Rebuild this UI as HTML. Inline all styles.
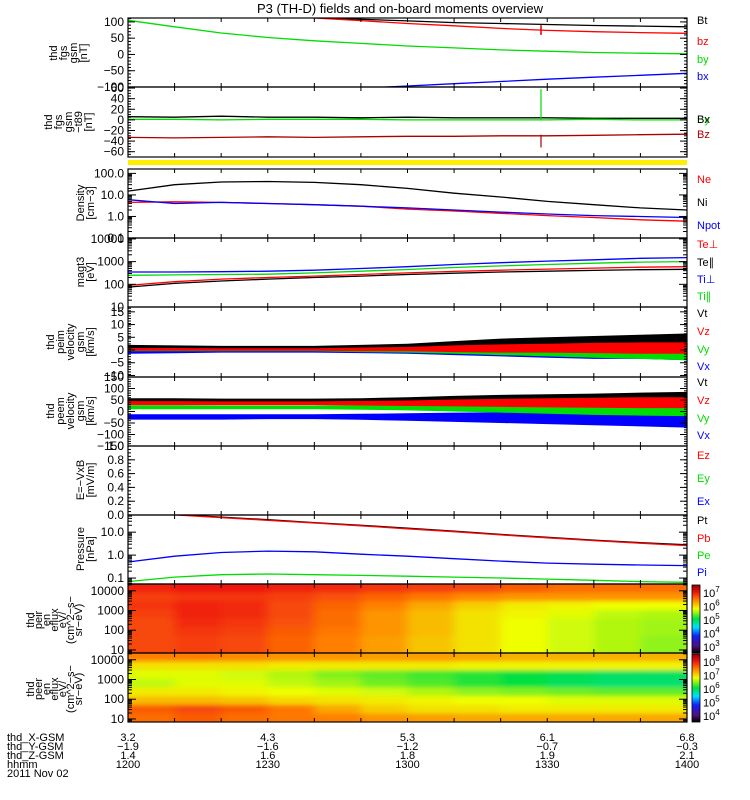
<!DOCTYPE html>
<html><head><meta charset="utf-8"><style>
body{margin:0;background:#fff;}
svg{display:block;font-family:"Liberation Sans",sans-serif;}
</style></head><body>
<svg id="c" width="750" height="800" xmlns="http://www.w3.org/2000/svg">
<defs>
<clipPath id="plotclip"><rect x="128" y="18" width="559" height="704"/></clipPath>
<filter id="blur" x="-5%" y="-5%" width="110%" height="110%"><feGaussianBlur stdDeviation="5 2"/></filter>
<clipPath id="s1clip"><rect x="128" y="584" width="559" height="69"/></clipPath>
<clipPath id="s2clip"><rect x="128" y="653" width="559" height="69"/></clipPath>
<linearGradient id="cmap" x1="0" y1="1" x2="0" y2="0">
<stop offset="0" stop-color="#000"/><stop offset="0.1" stop-color="#50107a"/><stop offset="0.25" stop-color="#1020ff"/><stop offset="0.38" stop-color="#00e0ff"/><stop offset="0.5" stop-color="#00e040"/><stop offset="0.65" stop-color="#f0ff00"/><stop offset="0.78" stop-color="#ff8000"/><stop offset="0.9" stop-color="#ee1010"/><stop offset="1" stop-color="#900000"/>
</linearGradient>
</defs>
<text x="400" y="13" text-anchor="middle" font-size="13">P3 (TH-D) fields and on-board moments overview</text>
<rect x="128" y="160" width="559" height="5" fill="#ffee00"/>
</svg>
<script>
// ---- data (13 samples, 10-min steps 12:00-14:00) ----
const times=[0,1,2,3,4,5,6,7,8,9,10,11,12];
const bt=[150,140,130,120,113,108,103,98,95,92,89,87,85];
const bz=[160,150,140,125,112,104,95,88,80,74,70,67,65];
const by=[105,85,66,52,42,34,26,20,14,10,6,4,2];
const bx=[-170,-150,-135,-120,-110,-104,-97,-90,-83,-76,-70,-64,-58];
const dbBlack=[6,5,7,5,5,4,5,4,4,4,3,3,3];
const dbGreen=[1,1,0,1,1,1,0,0,0,0,1,0,0];
const dbRed=[-33,-34,-33,-32,-33,-32,-31,-31,-30,-30,-29,-28,-27];
const ni=[15,30,40,42,38,30,20,12,8,5,3.5,2.5,2];
const ne=[4.5,4.8,4.5,4,3.5,3,2.2,1.8,1.4,1.1,0.9,0.7,0.6];
const npot=[6,4,4.5,4,3.5,3,2.5,2,1.6,1.3,1.1,1.0,0.9];
const tePar=[75,110,140,170,200,230,270,310,350,380,410,440,460];
const tePerp=[90,130,170,200,230,270,320,370,420,470,520,570,600];
const tiPar=[250,260,270,280,320,380,450,550,650,750,850,950,1000];
const tiPerp=[350,350,360,380,420,500,600,750,900,1050,1200,1400,1500];
const v5tLo=[0.3,0.3,0.3,0.3,0.3,0.3,0.5,0.8,1,1,1,1,1], v5tHi=[2,1.8,1.6,1.6,1.6,2,2.5,3.5,4.5,5,5.5,6,6.5];
const v5zLo=[-0.3,-0.3,-0.3,-0.3,-0.3,-0.5,-0.5,-0.8,-1,-1,-1.2,-1.5,-1.5], v5zHi=[0.8,0.8,0.7,0.7,0.7,1,1.2,1.8,2.2,2.5,2.8,3,3];
const v5yLo=[-0.5,-0.5,-0.5,-0.5,-0.5,-0.8,-1,-1.5,-2,-2.5,-3,-3.5,-4], v5yHi=[0.3,0.3,0.3,0.3,0.3,0.3,0.5,0.5,0.5,0.5,0.8,0.8,0.8];
const v5xLo=[-1.5,-1.3,-1,-1,-1,-1.2,-1.5,-2,-2.5,-3,-3.5,-3.5,-4], v5xHi=[-0.2,-0.2,-0.2,-0.2,-0.2,-0.2,-0.2,-0.2,-0.5,-0.5,-0.5,-0.5,-0.5];
const v6tLo=[40,40,40,40,40,40,40,40,40,40,40,40,40], v6tHi=[58,58,56,56,56,58,62,68,72,75,78,82,85];
const v6zLo=[28,28,28,28,28,26,24,22,20,18,16,15,15], v6zHi=[45,45,44,44,44,46,48,52,55,58,60,62,62];
const v6yLo=[10,10,10,10,10,8,5,0,-5,-10,-15,-18,-20], v6yHi=[27,27,26,26,26,28,30,34,36,38,40,42,42];
const v6xLo=[-35,-35,-35,-33,-33,-36,-40,-45,-50,-55,-60,-65,-70], v6xHi=[-12,-12,-12,-12,-12,-10,-8,-5,-3,-2,0,0,0];
const pt=[100,60,45,35,26,20,15,11,8,6,4.5,3.5,2.8];
const pb=[95,57,43,33,25,19,14,10.5,7.6,5.7,4.3,3.3,2.6];
const pi=[0.5,0.9,1.3,1.5,1.4,1.1,0.9,0.7,0.55,0.45,0.4,0.37,0.35];
const pe=[0.07,0.11,0.14,0.15,0.14,0.13,0.12,0.11,0.1,0.09,0.08,0.07,0.065];
const ionSpec=[
[.88,.89,.89,.88,.87,.86,.85,.84,.82,.80,.80,.80],
[.85,.86,.86,.85,.83,.81,.79,.77,.76,.76,.76,.76],
[.86,.88,.87,.84,.81,.78,.74,.70,.67,.66,.65,.65],
[.85,.88,.87,.84,.80,.76,.72,.68,.66,.64,.62,.61],
[.84,.87,.86,.83,.80,.76,.72,.68,.65,.63,.61,.60],
[.84,.86,.85,.82,.79,.76,.72,.68,.65,.63,.61,.60],
[.84,.85,.84,.81,.78,.75,.71,.68,.65,.63,.61,.59],
[.84,.85,.84,.81,.78,.75,.71,.68,.65,.63,.61,.59]];
const eleSpec=[
[.78,.78,.77,.76,.76,.75,.75,.74,.73,.73,.73,.73],
[.68,.68,.68,.67,.67,.67,.67,.66,.66,.66,.66,.66],
[.64,.64,.63,.61,.58,.56,.54,.52,.50,.49,.48,.48],
[.62,.64,.64,.62,.60,.57,.55,.52,.50,.48,.47,.47],
[.67,.67,.66,.65,.64,.63,.61,.59,.58,.57,.56,.56],
[.72,.72,.71,.69,.68,.67,.66,.65,.65,.64,.64,.64],
[.82,.84,.82,.79,.74,.70,.68,.68,.67,.67,.67,.67],
[.80,.82,.80,.79,.78,.76,.75,.74,.74,.74,.74,.74]];
const xRows=["3.2","4.3","5.3","6.1","6.8"];
const yRows=["-1.9","-1.6","-1.2","-0.7","-0.3"];
const zRows=["1.4","1.6","1.8","1.9","2.1"];
const hhmm=["1200","1230","1300","1330","1400"];

const S=document.getElementById('c'), NS='http://www.w3.org/2000/svg';
const X0=128,X1=687,TMAX=12;
function xOf(t){return X0+(X1-X0)*t/TMAX;}
function el(tag,a,p){const e=document.createElementNS(NS,tag);for(const k in a)e.setAttribute(k,a[k]);(p||S).appendChild(e);return e;}
function mkPanel(top,bot,min,max,log){return {top,bot,min,max,log,y(v){if(log){const a=Math.log10(min),b=Math.log10(max);return bot-(Math.log10(v)-a)/(b-a)*(bot-top);}return bot-(v-min)/(max-min)*(bot-top);}};}
const clipG=el('g',{'clip-path':'url(#plotclip)'});


function line(P,vals,col,name){
  let d='';vals.forEach((v,i)=>{const x=xOf(times[i]),y=Math.max(P.top-20,Math.min(P.bot+20,P.y(v)));d+=(i?'L':'M')+x.toFixed(1)+' '+y.toFixed(1);});
  const g=el('g',{'clip-path':'url(#pc'+P.top+')'},clipG);
  const p=el('path',{d,fill:'none',stroke:col,'stroke-width':1.3},g);
  
  
}
function band(P,lo,hi,col,name){
  let d='';hi.forEach((v,i)=>{d+=(i?'L':'M')+xOf(times[i]).toFixed(1)+' '+P.y(v).toFixed(1);});
  for(let i=lo.length-1;i>=0;i--)d+='L'+xOf(times[i]).toFixed(1)+' '+P.y(lo[i]).toFixed(1);
  const g=el('g',{'clip-path':'url(#pc'+P.top+')'},clipG);
  const p=el('path',{d:d+'Z',fill:col},g);
  
  
}
function setupClip(P){const cp=el('clipPath',{id:'pc'+P.top},S.querySelector('defs'));el('rect',{x:X0,y:P.top,width:X1-X0,height:P.bot-P.top},cp);}
function frame(P,name){
  const r=el('rect',{x:X0,y:P.top,width:X1-X0,height:P.bot-P.top,fill:'none',stroke:'#000','stroke-width':1.2});
  
  
  for(let i=1;i<12;i++){const x=xOf(i);el('line',{x1:x,x2:x,y1:P.top,y2:P.top+4,stroke:'#000'});el('line',{x1:x,x2:x,y1:P.bot,y2:P.bot-4,stroke:'#000'});}
}
function tickY(P,y,len){el('line',{x1:X0,x2:X0+len,y1:y,y2:y,stroke:'#000'});el('line',{x1:X1,x2:X1-len,y1:y,y2:y,stroke:'#000'});}
function label(txt,x,y,col,size,anchor,name){const t=el('text',{x,y,fill:col||'#000','font-size':size||11,'text-anchor':anchor||'start'});t.textContent=txt;return t;}
function linAxis(P,majors,minorStep,labels){
  for(let v=P.min;v<=P.max+1e-9;v+=minorStep){const y=P.y(v);if(y>=P.top-0.5&&y<=P.bot+0.5)tickY(P,y,3);}
  majors.forEach((v,i)=>{const y=P.y(v);tickY(P,y,7);label(labels[i],124,y+4,'#000',12,'end','y-tick-label');});
}
function logAxis(P,labels){
  const a=Math.ceil(Math.log10(P.min)-1e-9),b=Math.floor(Math.log10(P.max)+1e-9);
  for(let e=a-1;e<=b;e++)for(let m=2;m<10;m++){const v=m*Math.pow(10,e);if(v>P.min&&v<P.max)tickY(P,P.y(v),4);}
  let k=0;for(let e=b;e>=a;e--){const y=P.y(Math.pow(10,e));tickY(P,y,8);label(labels[k++],124,y+4,'#000',12,'end','y-tick-label');}
}
function yTitle(lines,lastX,cy,name,step){
  step=step||10;const g=el('g',{});
  lines.forEach((s,i)=>{const x=lastX-(lines.length-1-i)*step;const t=el('text',{x:0,y:0,'font-size':11,'text-anchor':'middle',transform:`translate(${x},${cy}) rotate(-90)`},g);t.textContent=s;});
}

const P1=mkPanel(18,87,-100,112,false),P2=mkPanel(87,157,-70,62,false),P3=mkPanel(169,238,0.1,160,true),
P4=mkPanel(238,307,10,11000,true),P5=mkPanel(307,377,-10.6,16.9,false),P6=mkPanel(377,446,-150,150,false),
P7=mkPanel(446,515,0,1,false),P8=mkPanel(515,584,0.055,56,true);
[P1,P2,P3,P4,P5,P6,P7,P8].forEach(setupClip);

line(P1,bt,'#000','bt-line');line(P1,bz,'#ff0000','bz-line');line(P1,by,'#00dd00','by-line');line(P1,bx,'#0000ff','bx-line');
el('line',{x1:541,x2:541,y1:P1.y(90),y2:P1.y(60),stroke:'#e00000','stroke-width':1.5});
line(P2,dbBlack,'#000','dbx-line');line(P2,dbGreen,'#00dd00','dby-line');line(P2,dbRed,'#aa0000','dbz-line');
el('line',{x1:541,x2:541,y1:P2.y(58),y2:P2.y(0),stroke:'#00dd00','stroke-width':1.2});
el('line',{x1:541,x2:541,y1:P2.y(-28),y2:P2.y(-52),stroke:'#aa0000','stroke-width':1.2});
line(P3,ni,'#000','ni-line');line(P3,ne,'#ff0000','ne-line');line(P3,npot,'#0000ff','npot-line');
line(P4,tePar,'#000','te-par-line');line(P4,tePerp,'#ff0000','te-perp-line');line(P4,tiPar,'#00dd00','ti-par-line');line(P4,tiPerp,'#0000ff','ti-perp-line');
band(P5,v5tLo,v5tHi,'#000','vt-ion-band');band(P5,v5xLo,v5xHi,'#0000ff','vx-ion-band');band(P5,v5yLo,v5yHi,'#00dd00','vy-ion-band');band(P5,v5zLo,v5zHi,'#ff0000','vz-ion-band');
band(P6,v6tLo,v6tHi,'#000','vt-ele-band');band(P6,v6xLo,v6xHi,'#0000ff','vx-ele-band');band(P6,v6yLo,v6yHi,'#00dd00','vy-ele-band');band(P6,v6zLo,v6zHi,'#ff0000','vz-ele-band');
line(P8,pt,'#000','pt-line');line(P8,pb,'#ff0000','pb-line');line(P8,pi,'#0000ff','pi-line');line(P8,pe,'#00dd00','pe-line');

function cmap(v){const st=[[0,0,0,0],[.1,80,16,122],[.25,16,32,255],[.38,0,224,255],[.5,0,224,64],[.65,240,255,0],[.78,255,128,0],[.9,238,16,16],[1,144,0,0]];
 v=Math.max(0,Math.min(1,v));for(let i=1;i<st.length;i++)if(v<=st[i][0]){const a=st[i-1],b=st[i],f=(v-a[0])/(b[0]-a[0]);return `rgb(${Math.round(a[1]+f*(b[1]-a[1]))},${Math.round(a[2]+f*(b[2]-a[2]))},${Math.round(a[3]+f*(b[3]-a[3]))})`;}return '#900';}
function spec(grid,top,clip,name){
  const g=el('g',{'clip-path':'url(#'+clip+')'});
  const inner=el('g',{filter:'url(#blur)'},g);
  const nr=grid.length,nc=grid[0].length,h=69/nr,w=(X1-X0)/nc;
  grid.forEach((row,r)=>row.forEach((v,c)=>{
    const rx=X0+c*w-(c==0?20:0),ry=top+r*h-(r==0?10:0);
    const cell=el('rect',{x:rx,y:ry,width:w+1+(c==0?20:0)+(c==nc-1?20:0),height:h+1+(r==0?10:0)+(r==nr-1?10:0),fill:cmap(v)},inner);
    
    
  }));
}
spec(ionSpec,584,'s1clip','ion-spectrogram');spec(eleSpec,653,'s2clip','electron-spectrogram');
const S1=mkPanel(584,653,7,22000,true),S2=mkPanel(653,722,7,22000,true);

frame(P1,'panel-b-gsm');linAxis(P1,[100,50,0,-50,-100],10,['100','50','0','\u221250','\u2212100']);
frame(P2,'panel-b-t89');linAxis(P2,[60,40,20,0,-20,-40,-60],5,['60','40','20','0','\u221220','\u221240','\u221260']);
frame(P3,'panel-density');logAxis(P3,['100.0','10.0','1.0','0.1']);
frame(P4,'panel-temperature');logAxis(P4,['10000','1000','100','10']);
frame(P5,'panel-ion-velocity');linAxis(P5,[15,10,5,0,-5,-10],1,['15','10','5','0','\u22125','\u221210']);
frame(P6,'panel-electron-velocity');linAxis(P6,[150,100,50,0,-50,-100,-150],10,['150','100','50','0','\u221250','\u2212100','\u2212150']);
frame(P7,'panel-efield');linAxis(P7,[1,0.8,0.6,0.4,0.2,0],0.05,['1.0','0.8','0.6','0.4','0.2','0.0']);
frame(P8,'panel-pressure');logAxis(P8,['10.0','1.0','0.1']);
frame(S1,'panel-ion-spectrogram');logAxis(S1,['10000','1000','100','10']);
frame(S2,'panel-electron-spectrogram');logAxis(S2,['10000','1000','100','10']);

yTitle(['thd','fgs','gsm','[nT]'],87,53,'y-title-b-gsm');
yTitle(['thd','fgs','gsm','\u2212t89','[nT]'],92,122,'y-title-b-t89');
yTitle(['Density','[cm\u22123]'],94,203,'y-title-density');
yTitle(['magt3','[eV]'],94,272,'y-title-temp');
yTitle(['thd','peim','velocity','gsm','[km/s]'],94,342,'y-title-ion-velocity');
yTitle(['thd','peem','velocity','gsm','[km/s]'],94,411,'y-title-electron-velocity');
yTitle(['E=\u2212VxB','[mV/m]'],94,480,'y-title-efield');
yTitle(['Pressure','[nPa]'],94,549,'y-title-pressure');
yTitle(['thd','peir','en','eflux','eV/','(cm^2\u2212s\u2212','sr\u2212eV)'],82,620,'y-title-ion-spec',8);
yTitle(['thd','peer','en','eflux','eV/','(cm^2\u2212s\u2212','sr\u2212eV)'],82,689,'y-title-electron-spec',8);

const legends=[['Bt',24,'#000'],['bz',45,'#ff0000'],['by',63,'#00dd00'],['bx',80,'#0000ff'],['By',123,'#00dd00'],['Bx',123,'#000'],['Bz',138,'#aa0000'],
['Ne',183,'#ff0000'],['Ni',206,'#000'],['Npot',229,'#0000ff'],['Te\u22a5',248,'#ff0000'],['Te\u2225',266,'#000'],['Ti\u22a5',283,'#0000ff'],['Ti\u2225',300,'#00dd00'],
['Vt',317,'#000'],['Vz',335,'#ff0000'],['Vy',353,'#00dd00'],['Vx',370,'#0000ff'],['Vt',386,'#000'],['Vz',404,'#ff0000'],['Vy',422,'#00dd00'],['Vx',439,'#0000ff'],
['Ez',459,'#ff0000'],['Ey',482,'#00dd00'],['Ex',505,'#0000ff'],['Pt',524,'#000'],['Pb',542,'#ff0000'],['Pe',559,'#00dd00'],['Pi',576,'#0000ff']];
legends.forEach(l=>label(l[0],697,l[1],l[2],11,'start','legend-entry'));

[[584,['7','6','5','4','3']],[653,['8','7','6','5','4']]].forEach((cb,j)=>{
  const r=el('rect',{x:692,y:cb[0]+1,width:8,height:68,fill:'url(#cmap)',stroke:'#000','stroke-width':0.8});
  
  
  cb[1].forEach((e,i)=>{const y=cb[0]+9+i*13.5;const t=label('10',703,y+4,'#000',11,'start','colorbar-label');const s=el('tspan',{dy:-5,'font-size':8},t);s.textContent=e;});
});

label('thd_X-GSM',7,741,'#000',11,'start','x-gsm-title');
label('thd_Y-GSM',7,750,'#000',11,'start','y-gsm-title');
label('thd_Z-GSM',7,759,'#000',11,'start','z-gsm-title');
label('hhmm',7,768,'#000',11,'start','hhmm-title');
label('2011 Nov 02',7,777,'#000',11,'start','date-label');
[0,3,6,9,12].forEach((t,i)=>{const x=xOf(t);
  label(xRows[i],x,741,'#000',11,'middle','x-gsm-value');
  label(yRows[i].replace('-','\u2212'),x,750,'#000',11,'middle','y-gsm-value');
  label(zRows[i],x,759,'#000',11,'middle','z-gsm-value');
  label(hhmm[i],x,768,'#000',11,'middle','time-tick-label');});
</script>
</body></html>
